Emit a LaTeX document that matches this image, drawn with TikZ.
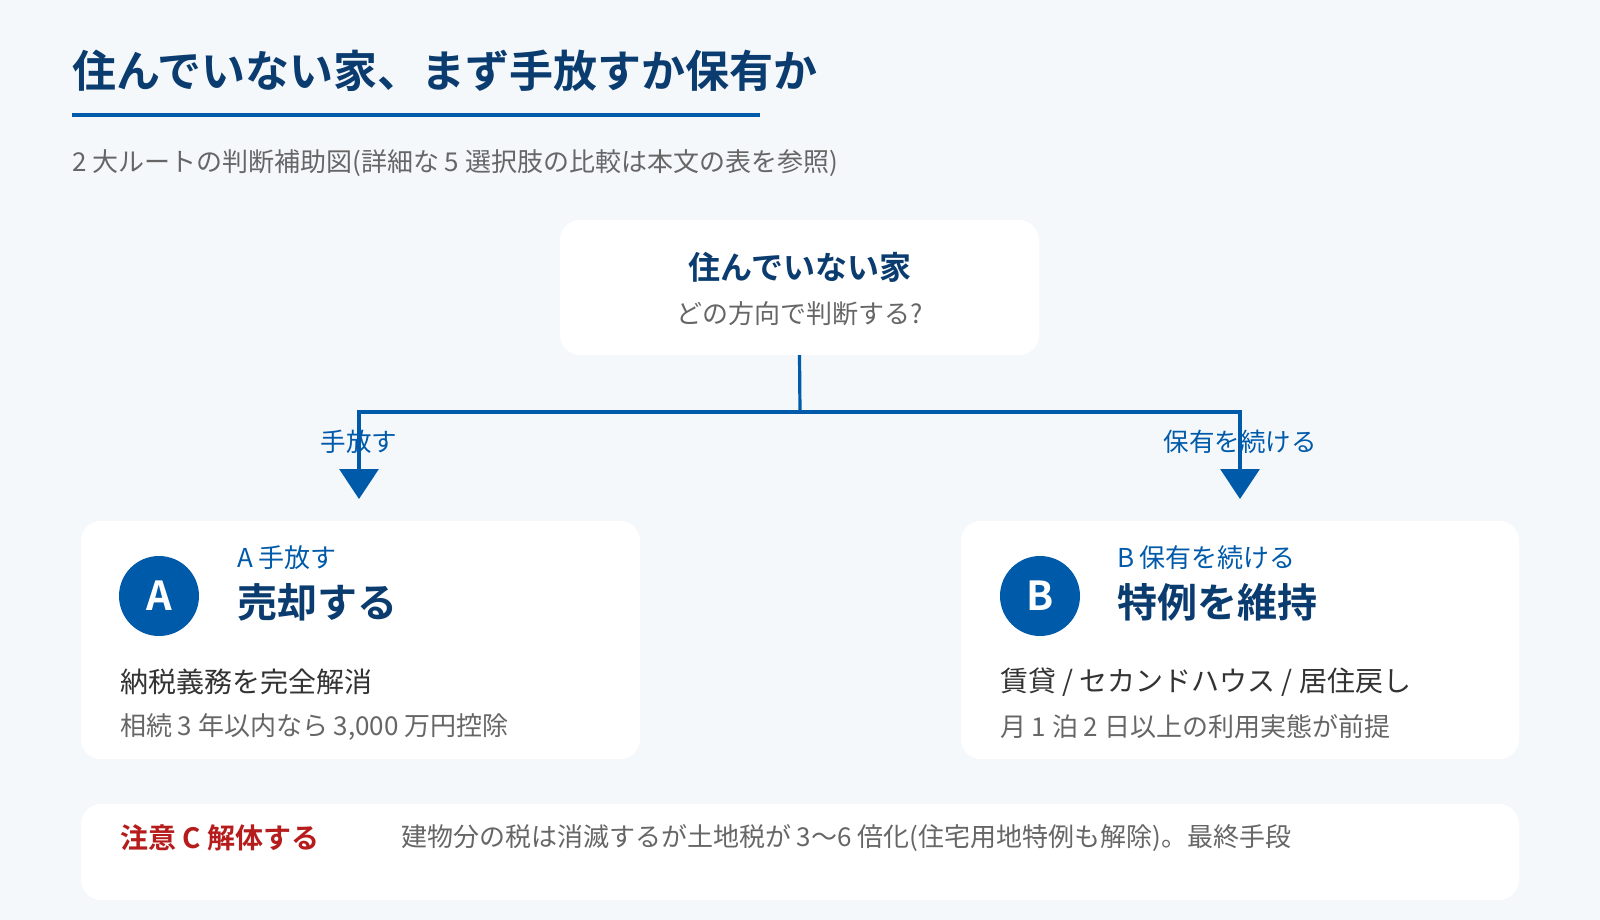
\documentclass[tikz,border=0pt]{standalone}
\usepackage{fontspec}
\setmainfont{Noto Sans CJK JP}[BoldFont={* Bold}]
\usetikzlibrary{arrows.meta}
\definecolor{bg}{HTML}{F5F8FB}
\definecolor{mainblue}{HTML}{005AAA}
\definecolor{navy}{HTML}{0B3C6F}
\definecolor{darktext}{HTML}{333333}
\definecolor{graytext}{HTML}{666666}
\definecolor{warnred}{HTML}{B71C1C}
\tikzset{
  card/.style={fill=white, draw=none, rounded corners=20pt, inner sep=0pt},
  txt/.style={inner sep=0pt, outer sep=0pt},
  fs/.style={font=\fontsize{#1}{#1}\selectfont},
  fsb/.style={font=\fontsize{#1}{#1}\selectfont\bfseries},
  conn/.style={draw=mainblue, line width=3.2pt},
  badge/.style={circle, fill=mainblue, minimum size=80pt, inner sep=0pt, text=white, font=\fontsize{40}{40}\selectfont\bfseries}
}
\begin{document}
\begin{tikzpicture}[x=1pt,y=-1pt]
\useasboundingbox (0,0) rectangle (1600,920);
\fill[bg] (0,0) rectangle (1600,920);

% title
\node[txt, anchor=west, text=navy, fsb=44] (title) at (72,71) {住んでいない家、まず手放すか保有か};
\draw[mainblue, line width=4pt] (72,115) -- (760,115);
\node[txt, anchor=west, text=graytext, fs=26] (subtitle) at (72,163) {2 大ルートの判断補助図(詳細な 5 選択肢の比較は本文の表を参照)};

% top card
\node[card, minimum width=479pt, minimum height=135pt] (top) at (799.5,287.5) {};
\node[txt, text=navy, fsb=32] (toptitle) at (800,267) {住んでいない家};
\node[txt, text=graytext, fs=26] (topsub) at (800,314) {どの方向で判断する?};

% branch labels (under lines)
\node[txt, text=mainblue, fs=25.5] (lblA) at (359,442) {手放す};
\node[txt, text=mainblue, fs=25.5] (lblB) at (1240,442) {保有を続ける};

% connectors
\coordinate (hub) at (800,412);
\coordinate (la) at (359,412);
\coordinate (ra) at (1240,412);
\coordinate (ta) at (359,499);
\coordinate (tb) at (1240,499);
\draw[conn] (top.south) -- (hub);
\draw[conn, line join=miter, {Triangle[width=39pt,length=30pt]}-{Triangle[width=39pt,length=30pt]}] (ta) -- (la) -- (ra) -- (tb);

% card A
\node[card, minimum width=559pt, minimum height=238pt] (cardA) at (360.5,640) {};
\node[badge] (badgeA) at (159,596) {A};
\node[txt, anchor=west, text=mainblue, fs=26] (kA) at (237,558) {A 手放す};
\node[txt, anchor=west, text=navy, fsb=40] (hA) at (237,602) {売却する};
\node[txt, anchor=west, text=darktext, fs=28] (mA) at (120,682) {納税義務を完全解消};
\node[txt, anchor=west, text=graytext, fs=26] (sA) at (120,727) {相続 3 年以内なら 3,000 万円控除};

% card B
\node[card, minimum width=558pt, minimum height=238pt] (cardB) at (1240,640) {};
\node[badge] (badgeB) at (1040,596) {B};
\node[txt, anchor=west, text=mainblue, fs=26] (kB) at (1117,558) {B 保有を続ける};
\node[txt, anchor=west, text=navy, fsb=40] (hB) at (1117,602) {特例を維持};
\node[txt, anchor=west, text=darktext, fs=28] (mB) at (1000,682) {賃貸 / セカンドハウス / 居住戻し};
\node[txt, anchor=west, text=graytext, fs=26] (sB) at (1000,727) {月 1 泊 2 日以上の利用実態が前提};

% card C
\node[card, minimum width=1438pt, minimum height=96pt] (cardC) at (800,852) {};
\node[txt, anchor=west, text=warnred, fsb=28] (hC) at (120,838) {注意 C 解体する};
\node[txt, anchor=west, text=graytext, fs=26] (dC) at (401,838) {建物分の税は消滅するが土地税が 3〜6 倍化(住宅用地特例も解除)。最終手段};
\end{tikzpicture}
\end{document}
